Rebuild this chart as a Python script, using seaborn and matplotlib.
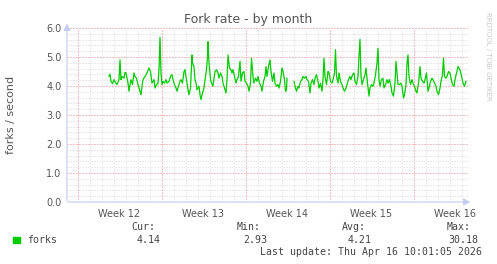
import numpy as np
import pandas as pd
import matplotlib
matplotlib.use("Agg")
import matplotlib.pyplot as plt
import seaborn as sns

# hours since Mon 16 Mar 2026 00:00, and fork rate (forks/second)
seg1_hours = [63, 65, 67, 70, 73, 76, 79, 83, 85, 87, 89, 93, 95, 97, 101, 103, 105, 107, 110, 113,
              115, 118, 121, 124, 127, 129, 131, 135, 139, 143, 146, 149, 153, 155, 157, 161, 163, 165, 167, 169,
              171, 174, 177, 179, 183, 186, 189, 191, 194, 197, 199, 202, 205, 207, 210, 213, 215, 218, 221, 223,
              226, 229, 230, 233, 235, 237, 239, 243, 245, 247, 250, 253, 255, 258, 260, 261, 263, 266, 268, 271,
              273, 275, 278, 281, 283, 286, 289, 291, 294, 297, 299, 301, 304, 307, 309, 311, 314, 317, 319, 322,
              325, 327, 330, 333, 335, 338, 341, 343, 346, 348, 351, 353, 356, 359, 361, 364, 367, 369, 372, 375,
              377, 379, 382, 385, 387, 390, 393, 395, 398, 401, 403, 406, 409, 411, 414, 416, 418, 419]
seg1_values = [4.33, 4.41, 4.16, 4.08, 4.22, 4.12, 4.05, 4.22, 4.90, 4.22, 4.33, 4.27, 4.47, 4.45, 4.10, 3.82, 4.05, 4.22, 4.05, 4.45,
               4.33, 4.27, 4.05, 3.87, 3.70, 3.99, 4.22, 4.33, 4.45, 4.62, 4.50, 4.10, 4.22, 3.93, 4.01, 4.10, 4.56, 5.68, 4.45, 4.05,
               4.16, 4.10, 4.22, 4.10, 4.16, 4.33, 4.39, 4.22, 4.05, 3.93, 3.82, 3.99, 4.16, 4.22, 4.10, 4.50, 4.56, 4.22, 3.87, 3.70,
               3.93, 5.07, 4.79, 4.67, 4.22, 4.10, 3.87, 3.99, 3.70, 3.53, 3.76, 3.93, 4.22, 4.56, 5.02, 5.53, 4.79, 4.22, 4.10, 3.99,
               4.27, 4.50, 4.56, 4.45, 4.27, 4.45, 4.33, 4.10, 3.93, 3.76, 4.22, 5.07, 4.62, 4.56, 4.45, 4.56, 4.33, 4.10, 4.22, 4.33,
               4.85, 4.16, 4.45, 4.50, 4.16, 4.10, 3.99, 3.82, 4.10, 4.96, 4.33, 4.10, 4.27, 4.16, 4.33, 4.10, 3.99, 3.82, 4.16, 4.33,
               4.67, 4.33, 4.67, 4.90, 4.50, 4.16, 4.45, 4.10, 3.99, 4.05, 3.93, 4.16, 4.62, 4.50, 4.22, 3.82, 3.87, 4.27]

seg2_hours = [433, 435, 438, 441, 443, 446, 449, 451, 454, 457, 459, 462, 465, 467, 470, 473, 475, 478, 481, 483,
              486, 489, 491, 493, 495, 498, 501, 503, 506, 509, 511, 514, 516, 518, 521, 523, 526, 529, 531, 534,
              537, 539, 542, 545, 547, 550, 553, 555, 558, 561, 563, 565, 567, 569, 572, 575, 577, 580, 583, 585,
              588, 591, 593, 596, 599, 601, 603, 605, 608, 611, 613, 616, 619, 621, 624, 627, 629, 632, 635, 637,
              639, 641, 644, 647, 649, 652, 654, 657, 659, 661, 663, 666, 669, 671, 674, 677, 679, 682, 685, 687,
              690, 693, 695, 698, 701, 703, 706, 709, 711, 714, 717, 719, 722, 725, 727, 730, 732, 734, 737, 739,
              742, 745, 747, 750, 753, 755, 758, 761, 763, 766, 769, 771, 774, 777]
seg2_values = [4.16, 3.99, 3.82, 3.99, 3.93, 4.16, 4.22, 4.33, 4.27, 4.33, 4.22, 4.16, 3.76, 4.10, 4.22, 4.05, 4.27, 4.39, 4.16, 3.93,
               4.10, 3.82, 4.22, 4.96, 4.33, 4.05, 4.50, 4.45, 4.16, 4.10, 4.22, 4.45, 5.25, 4.33, 4.10, 4.45, 4.16, 4.05, 3.93, 3.82,
               3.93, 4.05, 4.22, 4.33, 4.22, 4.39, 4.45, 4.16, 4.05, 4.33, 5.02, 5.61, 4.33, 4.05, 4.22, 4.39, 4.62, 4.10, 3.65, 3.93,
               4.05, 3.99, 4.10, 4.39, 4.79, 5.30, 4.22, 3.99, 4.22, 4.27, 3.93, 4.05, 4.22, 4.10, 4.22, 3.99, 3.76, 3.65, 4.10, 4.85,
               4.45, 4.05, 4.05, 4.10, 3.99, 3.59, 3.70, 4.05, 4.79, 5.07, 4.33, 4.05, 4.22, 4.10, 3.99, 3.82, 3.76, 4.10, 4.67, 4.27,
               4.16, 4.10, 4.22, 4.45, 3.82, 3.93, 4.16, 4.27, 4.22, 4.10, 3.99, 3.82, 3.70, 3.93, 4.16, 4.39, 4.96, 4.33, 4.27, 4.33,
               4.50, 4.45, 4.27, 4.05, 3.99, 4.22, 4.45, 4.67, 4.62, 4.50, 4.27, 4.10, 3.99, 4.16]

week_labels = ["Week 12", "Week 13", "Week 14", "Week 15", "Week 16"]
stat_names = ["Cur:", "Min:", "Avg:", "Max:"]
stat_values = ["4.14", "2.93", "4.21", "30.18"]

df = pd.DataFrame({
    "hours": seg1_hours + seg2_hours,
    "forks": seg1_values + seg2_values,
    "segment": [1] * len(seg1_hours) + [2] * len(seg2_hours),
})

W, H = 497, 264
fig = plt.figure(figsize=(W / 100, H / 100), dpi=100, facecolor="white")
ax = fig.add_axes([67 / W, 1 - 202 / H, (468 - 67) / W, (202 - 28) / H])
ax.set_facecolor("white")

green = "#00cc00"
sns.lineplot(data=df, x="hours", y="forks", units="segment", estimator=None,
             color=green, linewidth=0.9, ax=ax, legend=False)

xmin, xmax = -21, 781
ax.set_xlim(xmin, xmax)
ax.set_ylim(0, 6.0)

minor_col = "#d4d4d4"
major_col = "#f08080"
dot = (0, (1, 2))
for y in np.arange(0.2, 6.01, 0.2):
    if abs(y - round(y)) < 1e-6:
        continue
    ax.axhline(y, color=minor_col, lw=0.72, ls=dot, zorder=0)
for d in range(0, 33):
    h = d * 24
    if h % 168 != 0 and xmin < h < xmax:
        ax.axvline(h, color=minor_col, lw=0.72, ls=dot, zorder=0)
for y in range(1, 7):
    ax.axhline(y, color=major_col, lw=0.72, ls=dot, zorder=0.5)
for w in range(0, 5):
    ax.axvline(w * 168, color=major_col, lw=0.72, ls=dot, zorder=0.5)

ax.set_yticks(np.arange(0, 6.01, 1.0))
ax.set_yticklabels([f"{v:.1f}" for v in np.arange(0, 6.01, 1.0)])
ax.set_xticks([84 + 168 * i for i in range(5)])
ax.set_xticklabels(week_labels)
ax.tick_params(axis="both", length=0, labelsize=7, colors="#555555", pad=4)
ax.tick_params(axis="x", pad=5)
for s in ax.spines.values():
    s.set_visible(False)
ax.set_xlabel("")
ax.set_ylabel("")

# axes with arrows
axis_col = "#c4cbf2"
fig.add_artist(matplotlib.patches.FancyArrowPatch(
    (67 / W, 1 - 204 / H), (67 / W, 1 - 21 / H), transform=fig.transFigure,
    arrowstyle="-|>,head_length=2.6,head_width=1.4", color=axis_col, lw=0.8, mutation_scale=1.5))
fig.add_artist(matplotlib.patches.FancyArrowPatch(
    (65 / W, 1 - 202 / H), (473 / W, 1 - 202 / H), transform=fig.transFigure,
    arrowstyle="-|>,head_length=2.6,head_width=1.4", color=axis_col, lw=0.8, mutation_scale=1.5))

fig.text(248.5 / W, 1 - 19 / H, "Fork rate - by month", ha="center", va="center",
         fontsize=9, color="#555555")
fig.text(11 / W, 1 - 115 / H, "forks / second", rotation=90, ha="center", va="center",
         fontsize=8, color="#555555")
fig.text(488 / W, 1 - 56 / H, "RRDTOOL / TOBI OETIKER", rotation=270, ha="center", va="center",
         fontsize=5, color="#c8c8c8")

mono = "DejaVu Sans Mono"
fig.patches.append(matplotlib.patches.Rectangle((13 / W, 1 - 243 / H), 7 / W, 6 / H,
                                                transform=fig.transFigure, color=green))
fig.text(27 / W, 1 - 240 / H, "forks", family=mono, fontsize=7.1, color="#444444", va="center")
name_x = [131, 237, 342, 447]
val_x = [161, 267, 372, 478]
for nm, nx, v, vx in zip(stat_names, name_x, stat_values, val_x):
    fig.text(nx / W, 1 - 227.5 / H, nm, family=mono, fontsize=7.1, color="#444444", va="center", ha="left")
    fig.text(vx / W, 1 - 240 / H, v, family=mono, fontsize=7.1, color="#444444", va="center", ha="right")
fig.text(482 / W, 1 - 252 / H, "Last update: Thu Apr 16 10:01:05 2026", family=mono,
         fontsize=7.1, color="#444444", va="center", ha="right")

fig.savefig("out.png", dpi=100, facecolor="white")
